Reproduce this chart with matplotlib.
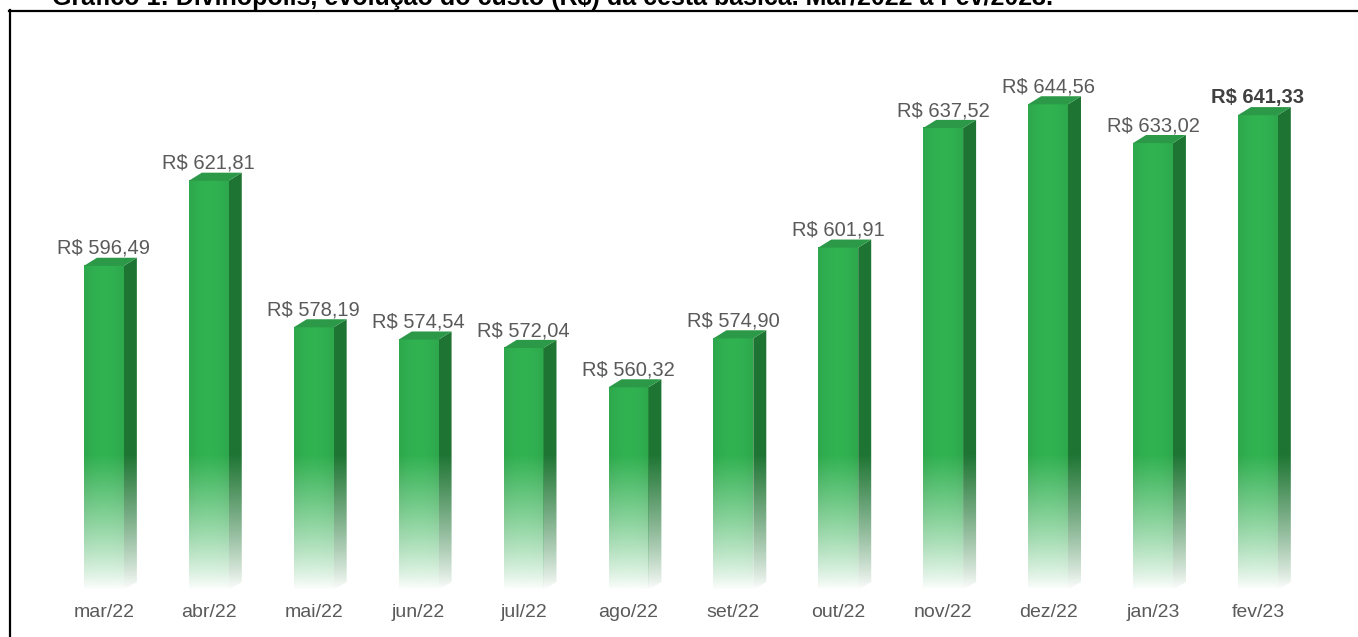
import matplotlib
matplotlib.use('Agg')
import matplotlib.pyplot as plt
import numpy as np
from matplotlib.patches import Polygon
from matplotlib.lines import Line2D

months = ['mar/22', 'abr/22', 'mai/22', 'jun/22', 'jul/22', 'ago/22',
          'set/22', 'out/22', 'nov/22', 'dez/22', 'jan/23', 'fev/23']
values = [596.49, 621.81, 578.19, 574.54, 572.04, 560.32,
          574.90, 601.91, 637.52, 644.56, 633.02, 641.33]
labels = ['R$ ' + f'{v:.2f}'.replace('.', ',') for v in values]

title = 'Gráfico 1: Divinópolis, evolução do custo (R$) da cesta básica. Mar/2022 a Fev/2023.'

plt.rcParams['font.family'] = ['Liberation Sans', 'DejaVu Sans']

fig = plt.figure(figsize=(13.58, 6.37), dpi=100)
ax = fig.add_axes([0.0379, 0.0738, 0.927, 0.8439])

base = 500.0
fade_top = 540.0
w = 0.38      # front width
dx = 0.124    # depth offset x
dy = 2.4      # depth offset y

front_rgb = np.array([0.18, 0.66, 0.30])
side_rgb = np.array([0.12, 0.46, 0.20])
top_rgb = np.array([0.17, 0.60, 0.28])


def grad_img(v, rgb, ncols, highlight=True):
    ys = np.linspace(base, v, 300)
    a = np.clip((ys - base) / (fade_top - base), 0, 1) ** 0.85
    img = np.zeros((300, ncols, 4))
    cols = np.linspace(-1, 1, ncols)
    shade = 1.0 + (0.06 * (1 - cols ** 2) if highlight else 0.0 * cols)
    for k in range(3):
        img[:, :, k] = np.clip(rgb[k] * shade[None, :], 0, 1)
    img[:, :, 3] = a[:, None]
    return img


for i, v in enumerate(values):
    x0, x1 = i - w / 2, i + w / 2
    # front face
    ax.imshow(grad_img(v, front_rgb, 20), extent=[x0, x1, base, v],
              origin='lower', aspect='auto', interpolation='bilinear', zorder=2)
    # side face
    side_poly = Polygon([(x1, base), (x1 + dx, base + dy), (x1 + dx, v + dy), (x1, v)],
                        closed=True, transform=ax.transData, facecolor='none', edgecolor='none')
    im = ax.imshow(grad_img(v + dy, side_rgb, 6, highlight=False), extent=[x1, x1 + dx, base, v + dy],
                   origin='lower', aspect='auto', interpolation='bilinear', zorder=2)
    im.set_clip_path(side_poly)
    # top face
    ax.add_patch(Polygon([(x0, v), (x1, v), (x1 + dx, v + dy), (x0 + dx, v + dy)],
                         closed=True, facecolor=top_rgb, edgecolor='none', zorder=3))
    last = i == len(values) - 1
    ax.annotate(labels[i], (i, v), xytext=(0, 8.5), textcoords='offset points',
                ha='center', va='baseline', fontsize=14.5,
                color='#404040' if last else '#5a5a5a',
                fontweight='bold' if last else 'normal')

ax.set_xlim(-0.5, len(values) - 0.5)
ax.set_ylim(base, 660)
ax.set_xticks(range(len(months)))
ax.set_xticklabels(months, fontsize=14, color='#5a5a5a')
ax.tick_params(axis='x', length=0, pad=10)
ax.set_yticks([])
for s in ax.spines.values():
    s.set_visible(False)

# frame border
fig.add_artist(Line2D([9 / 1358, 1], [1 - 10.5 / 637, 1 - 10.5 / 637], color='black', lw=1.6))
fig.add_artist(Line2D([9.5 / 1358, 9.5 / 1358], [0, 1 - 10 / 637], color='black', lw=1.6))

fig.text(52 / 1358, 1 - 5 / 637, title, fontsize=18, fontweight='bold', color='black',
         ha='left', va='baseline')

fig.savefig('out.png', dpi=100)
